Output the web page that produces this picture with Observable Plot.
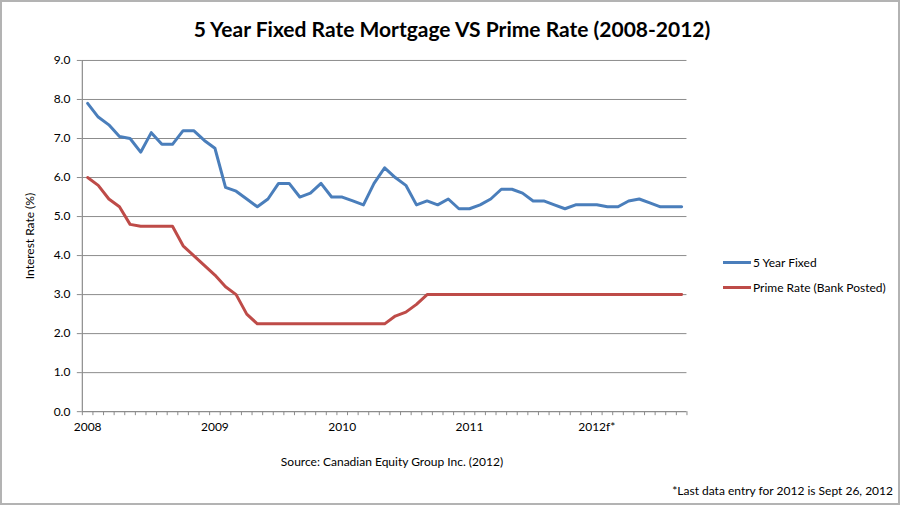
<!DOCTYPE html>
<html>
<head>
<meta charset="utf-8">
<script src="https://cdn.jsdelivr.net/npm/d3@7"></script>
<script src="https://cdn.jsdelivr.net/npm/@observablehq/plot@0.6"></script>
<style>
  html, body { margin: 0; padding: 0; background: #fff; }
  #frame { position: relative; width: 900px; height: 505px; box-sizing: border-box; border: 2px solid #b3b3b3; background: #fff; font-family: Lato, "Open Sans", sans-serif; color: #000; overflow: hidden; }
  #title { position: absolute; top: 14px; left: 0; width: 900px; text-align: center; font-weight: bold; font-size: 21px; }
  #chart { position: absolute; top: 41px; left: -2px; }
  .legend { position: absolute; left: 721px; font-size: 12px; display: flex; align-items: center; }
  .legend span.sw { display: inline-block; width: 28px; height: 3px; margin-right: 2px; }
  #source { position: absolute; top: 452px; left: 0; width: 780px; text-align: center; font-size: 12px; }
  #note { position: absolute; top: 481px; right: 5px; font-size: 12px; }
</style>
</head>
<body>
<div id="frame">
  <div id="title">5 Year Fixed Rate Mortgage VS Prime Rate (2008-2012)</div>
  <div id="chart"></div>
  <div class="legend" style="top:253px"><span class="sw" style="background:#4A7EBB"></span>5 Year Fixed</div>
  <div class="legend" style="top:278px"><span class="sw" style="background:#BE4B48"></span>Prime Rate (Bank Posted)</div>
  <div id="source">Source: Canadian Equity Group Inc. (2012)</div>
  <div id="note">*Last data entry for 2012 is Sept 26, 2012</div>
</div>
<script>
// Monthly observations, Jan 2008 .. Sep 2012 (57 months)
const fixedRate = [7.9, 7.55, 7.35, 7.05, 7.0, 6.65, 7.15, 6.85, 6.85, 7.2, 7.2, 6.95,
  6.75, 5.75, 5.65, 5.45, 5.25, 5.45, 5.85, 5.85, 5.5, 5.6, 5.85, 5.5,
  5.5, 5.4, 5.3, 5.85, 6.25, 6.0, 5.8, 5.3, 5.4, 5.3, 5.45, 5.2,
  5.2, 5.3, 5.45, 5.7, 5.7, 5.6, 5.4, 5.4, 5.3, 5.2, 5.3, 5.3,
  5.3, 5.25, 5.25, 5.4, 5.45, 5.35, 5.25, 5.25, 5.25];
const primeRate = [6.0, 5.8, 5.45, 5.25, 4.8, 4.75, 4.75, 4.75, 4.75, 4.25, 4.0, 3.75,
  3.5, 3.2, 3.0, 2.5, 2.25, 2.25, 2.25, 2.25, 2.25, 2.25, 2.25, 2.25,
  2.25, 2.25, 2.25, 2.25, 2.25, 2.45, 2.55, 2.75, 3.0, 3.0, 3.0, 3.0,
  3.0, 3.0, 3.0, 3.0, 3.0, 3.0, 3.0, 3.0, 3.0, 3.0, 3.0, 3.0,
  3.0, 3.0, 3.0, 3.0, 3.0, 3.0, 3.0, 3.0, 3.0];
const yearLabels = ["2008", "2009", "2010", "2011", "2012f*"];
const yearStartIndex = [0, 12, 24, 36, 48];
const yTicks = [0, 1, 2, 3, 4, 5, 6, 7, 8, 9];

const fixedData = fixedRate.map((v, i) => ({i, v}));
const primeData = primeRate.map((v, i) => ({i, v}));
const n = fixedRate.length;
const boundaries = d3.range(n + 1).map(k => k - 0.5);
const axisColor = "#8c8c8c";

const chart = Plot.plot({
  width: 900,
  height: 402,
  marginLeft: 82,
  marginRight: 212,
  marginTop: 17,
  marginBottom: 33,
  style: { fontFamily: "Lato, 'Open Sans', sans-serif", fontSize: "12px", color: "#000", background: "transparent" },
  x: { domain: [-0.5, n - 0.5], axis: null },
  y: { domain: [0, 9], axis: null },
  marks: [
    Plot.gridY(yTicks.slice(1), { stroke: axisColor, strokeOpacity: 1, strokeWidth: 1 }),
    Plot.ruleY([0], { stroke: axisColor, strokeWidth: 1.2 }),
    Plot.ruleX([-0.5], { stroke: axisColor, strokeWidth: 1.2 }),
    Plot.axisY(yTicks, {
      tickSize: 5, tickPadding: 7, stroke: axisColor,
      tickFormat: d => d.toFixed(1), fill: "#000",
      label: "Interest Rate (%)", labelAnchor: "center", labelOffset: 57, labelArrow: "none"
    }),
    Plot.axisX(boundaries, { tickSize: 4, stroke: axisColor, tickFormat: () => "", label: null }),
    Plot.axisX(yearStartIndex, { tickSize: 0, tickPadding: 11, tickFormat: (d) => yearLabels[yearStartIndex.indexOf(d)], fill: "#000", label: null }),
    Plot.line(fixedData, { x: "i", y: "v", stroke: "#4A7EBB", strokeWidth: 3, strokeLinejoin: "round" }),
    Plot.line(primeData, { x: "i", y: "v", stroke: "#BE4B48", strokeWidth: 3, strokeLinejoin: "round" })
  ]
});
document.getElementById("chart").appendChild(chart);
</script>
</body>
</html>
